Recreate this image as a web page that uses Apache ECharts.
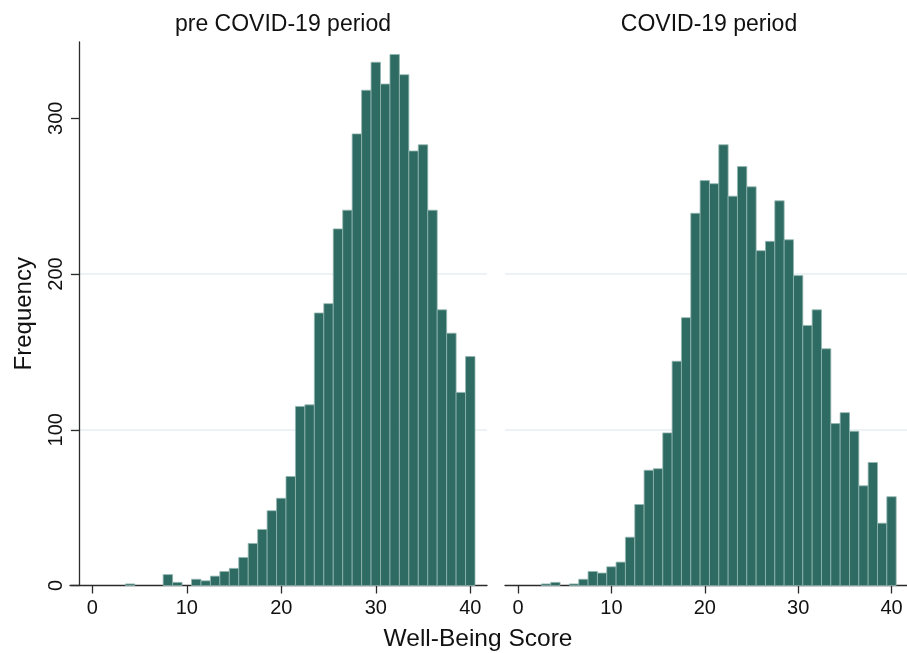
<!DOCTYPE html>
<html>
<head>
<meta charset="utf-8">
<script src="https://cdn.jsdelivr.net/npm/echarts@6/dist/echarts.min.js"></script>
<style>html,body{margin:0;padding:0;background:#fff}#c{width:907px;height:653px}</style>
</head>
<body>
<div id="c"></div>
<script>
// Well-Being Score bins (integer scores)
const scores = [0,1,2,3,4,5,6,7,8,9,10,11,12,13,14,15,16,17,18,19,20,21,22,23,24,25,26,27,28,29,30,31,32,33,34,35,36,37,38,39,40];
// Frequencies, pre COVID-19 period
const preCovid = [0,0,0,0,1,0,0,0,7,2,0,4,3,6,9,11,18,27,36,48,56,70,115,116,175,181,229,241,290,318,336,322,341,328,279,283,241,177,162,124,147];
// Frequencies, COVID-19 period
const covid = [0,0,0,1,2,0,1,4,9,8,12,15,31,52,74,75,98,144,172,239,260,258,283,250,269,256,215,221,247,222,199,167,177,152,104,111,99,64,79,40,57];
const xTicks = [0,10,20,30,40];
const yTicks = [0,100,200,300];
const panelTitles = ['pre COVID-19 period','COVID-19 period'];
const xTitle = 'Well-Being Score';
const yTitle = 'Frequency';

const FONT = 'Liberation Sans, Arial, sans-serif';
const AX = '#2b2b2b';
const BAR = '#2e6b63';
const EDGE = '#93b6b0';

function pairs(vals){ return scores.map((s,i)=>[s, vals[i]]); }

function renderBar(params, api){
  const x = api.value(0), y = api.value(1);
  if (!y) return null;
  const p0 = api.coord([x-0.5, y]);
  const p1 = api.coord([x+0.5, 0]);
  return {type:'rect', shape:{x:p0[0], y:p0[1], width:p1[0]-p0[0], height:p1[1]-p0[1]},
          style:{fill:BAR, stroke:EDGE, lineWidth:0.8}};
}

function xAxisOpt(gi, min, max){
  return {type:'value', gridIndex:gi, min:min, max:max,
    axisLine:{show:true, lineStyle:{color:AX, width:1.3}},
    axisTick:{show:true, length:8, lineStyle:{color:AX, width:1.3}, customValues:xTicks},
    axisLabel:{show:true, margin:13, fontSize:20, fontFamily:FONT, color:'#111', customValues:xTicks},
    splitLine:{show:false}};
}
function yAxisOpt(gi, show){
  const o = {type:'value', gridIndex:gi, min:0, max:349,
    axisLine:{show:show, onZero:false, lineStyle:{color:AX, width:1.3}},
    axisTick:{show:show, length:8, lineStyle:{color:AX, width:1.3}, customValues:yTicks},
    axisLabel:{show:show, rotate:90, margin:13, fontSize:20, fontFamily:FONT, color:'#111', customValues:yTicks},
    splitLine:{show:true, showMinLine:false, showMaxLine:false, lineStyle:{color:'#e6eff1', width:1.5}}};
  if (show){
    o.offset = -9;
    o.name = yTitle; o.nameLocation = 'middle'; o.nameRotate = 90; o.nameGap = 43;
    o.nameTextStyle = {fontSize:24, fontFamily:FONT, color:'#111'};
  }
  return o;
}

const chart = echarts.init(document.getElementById('c'), null, {renderer:'canvas'});
chart.setOption({
  animation:false,
  backgroundColor:'#fff',
  title:[
    {text:panelTitles[0], left:283, top:13, textAlign:'center', padding:0, textStyle:{fontSize:23, fontWeight:'normal', fontFamily:FONT, color:'#111'}},
    {text:panelTitles[1], left:709, top:13, textAlign:'center', padding:0, textStyle:{fontSize:23, fontWeight:'normal', fontFamily:FONT, color:'#111'}},
    {text:xTitle, left:478, top:627, textAlign:'center', padding:0, textStyle:{fontSize:24.5, fontWeight:'normal', fontFamily:FONT, color:'#111'}}
  ],
  grid:[
    {left:70, width:417, top:42, bottom:67.5, containLabel:false},
    {left:505, right:-6, top:42, bottom:67.5, containLabel:false}
  ],
  xAxis:[ xAxisOpt(0, -2.36, 41.77), xAxisOpt(1, -1.40, 41.66) ],
  yAxis:[ yAxisOpt(0, true), yAxisOpt(1, false) ],
  series:[
    {type:'custom', xAxisIndex:0, yAxisIndex:0, renderItem:renderBar, data:pairs(preCovid), encode:{x:0, y:1}},
    {type:'custom', xAxisIndex:1, yAxisIndex:1, renderItem:renderBar, data:pairs(covid), encode:{x:0, y:1}}
  ]
});
</script>
</body>
</html>
